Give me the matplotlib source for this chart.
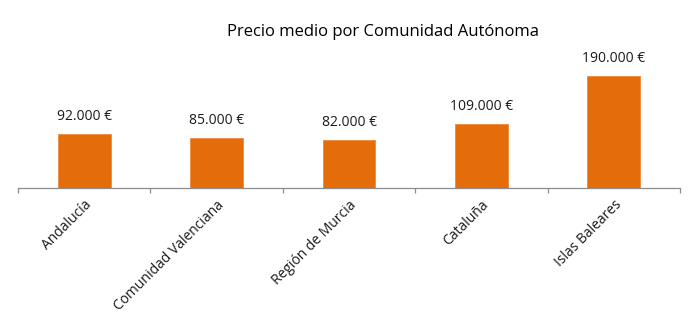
import numpy as np
from matplotlib import pyplot as plt

regiones = ["Andalucía", "Comunidad Valenciana", "Región de Murcia", "Cataluña", "Islas Baleares"]
precios = [92000, 85000, 82000, 109000, 190000]
etiquetas = ["92.000 €", "85.000 €", "82.000 €", "109.000 €", "190.000 €"]

plt.rcParams['font.family'] = ['Open Sans', 'DejaVu Sans']

fig = plt.figure(figsize=(6.9, 3.28), dpi=100)
ax = fig.add_axes([18/690, 140/328, 662/690, 118/328])

x = np.arange(len(regiones))
ax.bar(x, precios, width=0.4, color="#E46C0A", edgecolor="#F08A3C", linewidth=0.6)

for xi, v, lab in zip(x, precios, etiquetas):
    ax.annotate(lab, (xi, v), xytext=(0, 7), textcoords="offset points",
                ha="center", va="bottom", fontsize=10, color="#1a1a1a")

ax.set_xlim(-0.5, len(regiones) - 0.5)
ax.set_ylim(0, 200000)

for s in ["top", "right", "left"]:
    ax.spines[s].set_visible(False)
ax.spines["bottom"].set_color("#8c8c8c")
ax.spines["bottom"].set_linewidth(0.9)
ax.set_yticks([])

ax.set_xticks(x)
ax.set_xticklabels(regiones, rotation=45, ha="right", rotation_mode="anchor",
                   fontsize=10, color="#1a1a1a")
ax.tick_params(axis="x", which="major", length=0, pad=7)
ax.set_xticks(np.arange(-0.5, len(regiones)), minor=True)
ax.tick_params(axis="x", which="minor", length=3.5, color="#8c8c8c", width=0.9)

fig.text(383/690, 1 - 32/328, "Precio medio por Comunidad Autónoma",
         ha="center", va="center", fontsize=12, color="#000000")

fig.savefig("out.png", dpi=100)
